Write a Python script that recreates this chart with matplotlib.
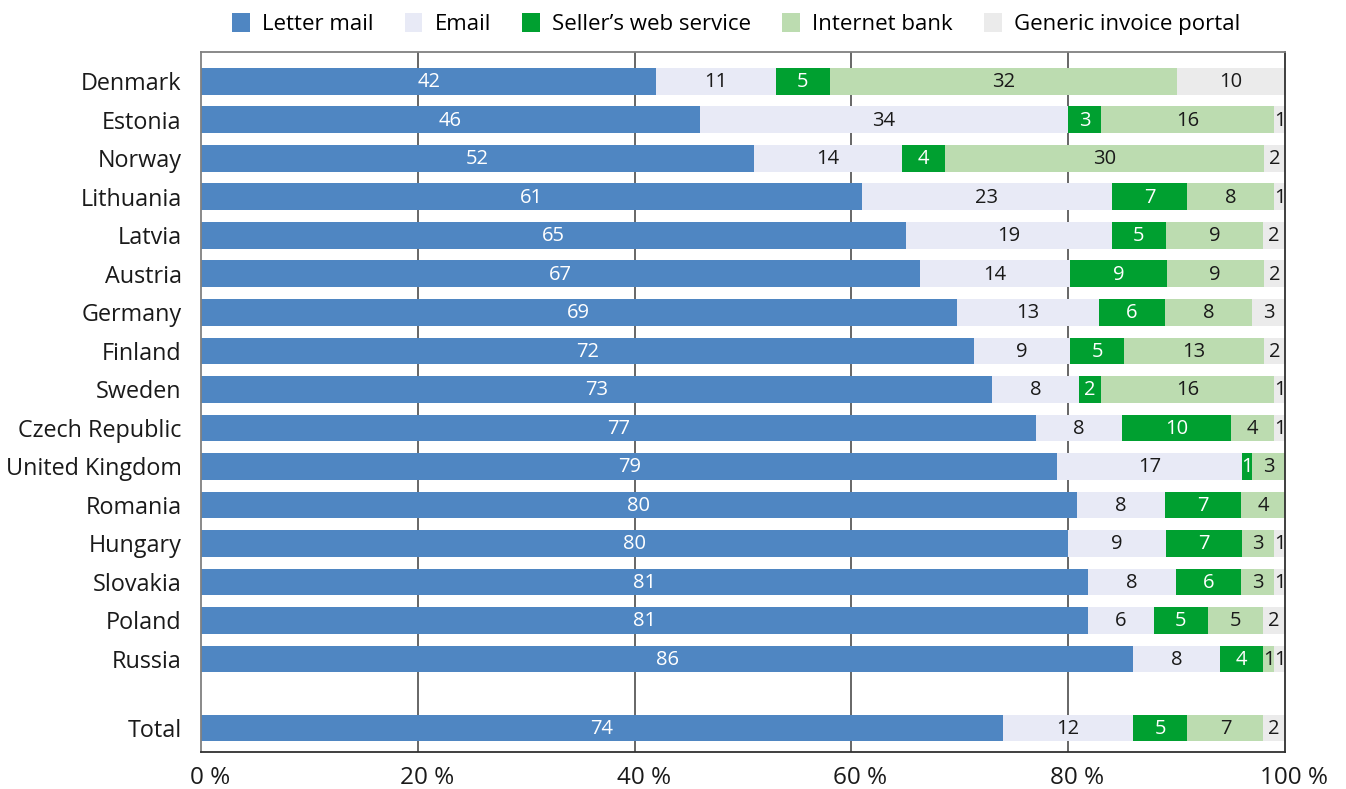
import numpy as np
import matplotlib
matplotlib.use("Agg")
import matplotlib.pyplot as plt
from matplotlib.patches import Patch
from matplotlib.transforms import ScaledTranslation

plt.rcParams['font.family'] = ['Open Sans', 'DejaVu Sans']

# --------------------------
# Data (share of invoices received by channel, %)
# --------------------------
countries = ['Denmark', 'Estonia', 'Norway', 'Lithuania', 'Latvia', 'Austria',
             'Germany', 'Finland', 'Sweden', 'Czech Republic', 'United Kingdom',
             'Romania', 'Hungary', 'Slovakia', 'Poland', 'Russia', 'Total']
channels = ['Letter mail', 'Email', "Seller\u2019s web service", 'Internet bank',
            'Generic invoice portal']

letter_mail = [42, 46, 52, 61, 65, 67, 69, 72, 73, 77, 79, 80, 80, 81, 81, 86, 74]
email = [11, 34, 14, 23, 19, 14, 13, 9, 8, 8, 17, 8, 9, 8, 6, 8, 12]
seller_web = [5, 3, 4, 7, 5, 9, 6, 5, 2, 10, 1, 7, 7, 6, 5, 4, 5]
internet_bank = [32, 16, 30, 8, 9, 9, 8, 13, 16, 4, 3, 4, 3, 3, 5, 1, 7]
generic_portal = [10, 1, 2, 1, 2, 2, 3, 2, 1, 1, 0, 0, 1, 1, 2, 1, 2]

colors = ['#4f86c2', '#e8eaf6', '#00a030', '#bcdcb0', '#ebebeb']
text_colors = ['white', '#1a1a1a', 'white', '#1a1a1a', '#1a1a1a']

# --------------------------
# Plot
# --------------------------
values = np.array([letter_mail, email, seller_web, internet_bank, generic_portal], dtype=float)
shares = values / values.sum(axis=0) * 100  # rows are stretched to 100 %

# countries on rows 0..15, Total a little further down
ypos = np.append(np.arange(len(countries) - 1), len(countries) - 0.2)

fig = plt.figure(figsize=(13.46, 7.89), dpi=100)
ax = fig.add_axes([201 / 1346, 37 / 789, 1084 / 1346, 700 / 789])

left = np.zeros(len(countries))
for i, ch in enumerate(channels):
    ax.barh(ypos, shares[i], left=left, height=0.69, color=colors[i],
            label=ch, zorder=2)
    for y, l, w, v in zip(ypos, left, shares[i], values[i]):
        if v > 0:
            ax.text(l + w / 2, y + 0.03, f'{int(v)}', ha='center', va='center',
                    fontsize=14.5, color=text_colors[i], zorder=3)
    left += shares[i]

ax.set_xlim(0, 100)
ax.set_ylim(len(countries) + 0.42, -0.76)
ax.set_yticks(ypos)
ax.set_yticklabels(countries, fontsize=16.8)
ax.set_xticks(range(0, 101, 20))
ax.set_xticklabels([f'{t} %' for t in range(0, 101, 20)], fontsize=17.5)
ax.tick_params(axis='both', length=0, colors='#1a1a1a')
ax.tick_params(axis='y', pad=14)
ax.tick_params(axis='x', pad=10)
offset = ScaledTranslation(9 / 100, 0, fig.dpi_scale_trans)
for lab in ax.get_xticklabels():
    lab.set_transform(lab.get_transform() + offset)

for x in range(20, 100, 20):
    ax.axvline(x, color='#5a5a5a', lw=1.3, zorder=1)

for side in ['top', 'left']:
    ax.spines[side].set_color('#808080')
    ax.spines[side].set_linewidth(1.3)
for side in ['right', 'bottom']:
    ax.spines[side].set_color('#303030')
    ax.spines[side].set_linewidth(1.3)

handles = [Patch(facecolor=c, edgecolor='none', label=ch) for c, ch in zip(colors, channels)]
fig.legend(handles=handles, loc='center', bbox_to_anchor=(736 / 1346, 1 - 24 / 789),
           ncol=5, frameon=False, fontsize=16, handlelength=0.8, handleheight=0.95,
           handletextpad=0.55, columnspacing=1.4, borderaxespad=0)

fig.savefig('out.png', dpi=100)
